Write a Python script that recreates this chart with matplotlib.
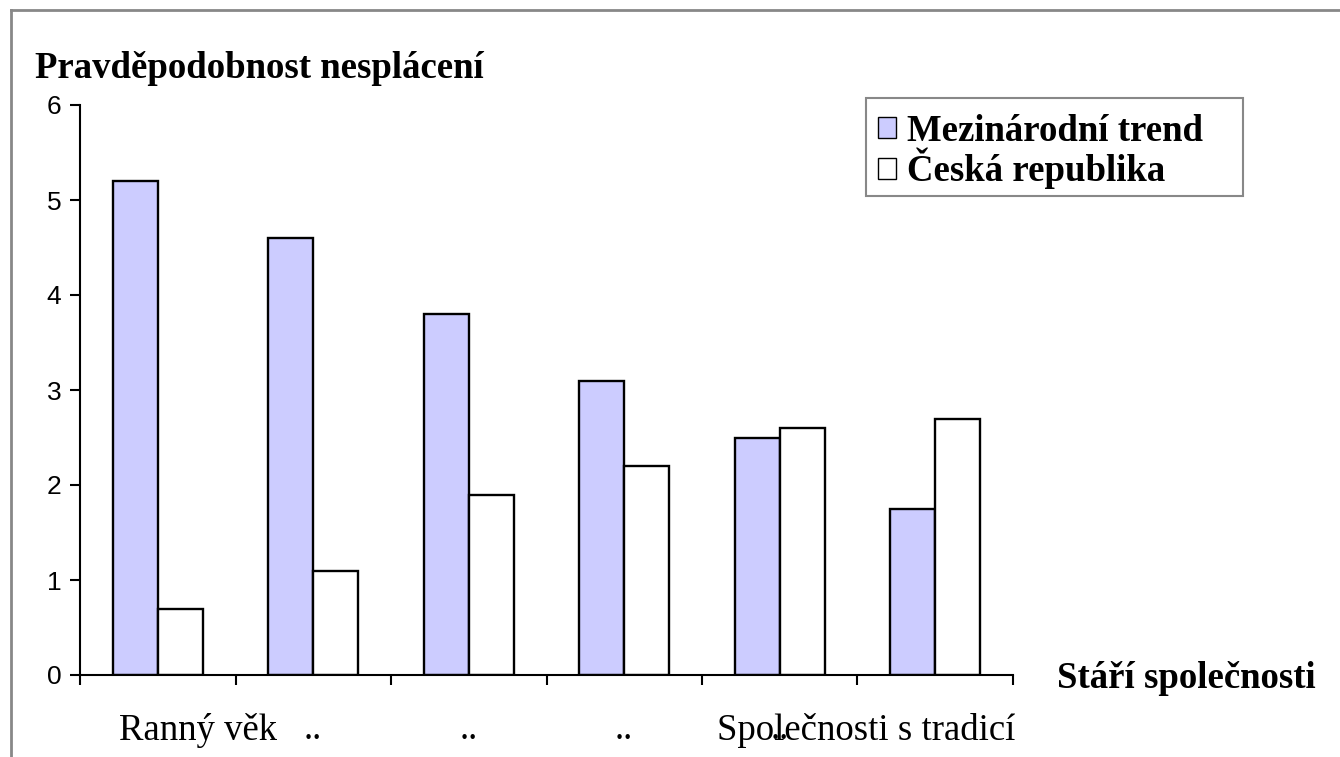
import numpy as np
import matplotlib.pyplot as plt
from matplotlib.lines import Line2D
from matplotlib.patches import Rectangle
from matplotlib.transforms import ScaledTranslation

# values
categories = ['Ranný věk', '..', '..', '..', '..', 'Společnosti s tradicí']
mezinarodni = [5.2, 4.6, 3.8, 3.1, 2.5, 1.75]
cesko = [0.7, 1.1, 1.9, 2.2, 2.6, 2.7]
series_names = ['Mezinárodní trend', 'Česká republika']
yticks = [0, 1, 2, 3, 4, 5, 6]

serif = ['Liberation Serif', 'DejaVu Serif']
sans = ['Liberation Sans', 'DejaVu Sans']

W, H = 1340, 757
fig = plt.figure(figsize=(W / 100, H / 100), dpi=100)
fig.patch.set_facecolor('white')

# axes box in pixels: x 80..1013, y 105..675
ax = fig.add_axes([80 / W, 1 - 675 / H, (1013 - 80) / W, (675 - 105) / H])

x = np.arange(len(categories))
bw = 0.29
ax.bar(x - bw / 2, mezinarodni, bw, color='#CCCCFF', edgecolor='black',
       linewidth=1.7, label=series_names[0])
ax.bar(x + bw / 2, cesko, bw, color='white', edgecolor='black',
       linewidth=1.7, label=series_names[1])

ax.set_xlim(-0.5, len(categories) - 0.5)
ax.set_ylim(0, 6)

for side in ['top', 'right']:
    ax.spines[side].set_visible(False)
for side in ['left', 'bottom']:
    ax.spines[side].set_linewidth(1.5)

ax.set_yticks(yticks)
ax.set_yticklabels([str(t) for t in yticks], fontfamily=sans, fontsize=19)
ax.tick_params(axis='y', direction='out', length=7.5, width=1.5, pad=6)

# tick marks between the categories, labels at the centres
ax.set_xticks(np.arange(-0.5, len(categories)), minor=True)
ax.set_xticks(x)
ax.set_xticklabels(categories, fontfamily=serif, fontsize=26.5)
ax.tick_params(axis='x', which='minor', direction='out', length=7.5, width=1.5)
ax.tick_params(axis='x', which='major', length=0, pad=27)

# first and last label sit off-centre in the original
labels = ax.get_xticklabels()
shifts = {0: 40, len(categories) - 1: -69}
for i, dx in shifts.items():
    labels[i].set_transform(labels[i].get_transform() +
                            ScaledTranslation(dx / 100, 0, fig.dpi_scale_trans))

fig.text(35 / W, 1 - 78 / H, 'Pravděpodobnost nesplácení', fontfamily=serif,
         fontsize=26.5, fontweight='bold', ha='left', va='baseline')
fig.text(1057 / W, 1 - 688 / H, 'Stáří společnosti', fontfamily=serif,
         fontsize=26.5, fontweight='bold', ha='left', va='baseline')

# legend entries without frame, box drawn separately
leg = ax.legend(loc='upper left', bbox_to_anchor=(878 / W, 1 - 114 / H),
                bbox_transform=fig.transFigure, frameon=False,
                prop={'family': serif, 'size': 26.5, 'weight': 'bold'},
                handlelength=0.5, handleheight=0.5, handletextpad=0.3,
                borderpad=0, labelspacing=-0.03, borderaxespad=0)
for h in leg.legend_handles:
    h.set_linewidth(1.0)
fig.add_artist(Rectangle((866 / W, 1 - 196 / H), (1243 - 866) / W, 98 / H,
                         transform=fig.transFigure, facecolor='none',
                         edgecolor='#888888', linewidth=1.5))

# grey border of the chart area (top and left)
fig.add_artist(Line2D([11 / W, 11 / W], [0, 1 - 10 / H], color='#888888',
                      linewidth=2, transform=fig.transFigure))
fig.add_artist(Line2D([11 / W, 1], [1 - 10 / H, 1 - 10 / H], color='#888888',
                      linewidth=2, transform=fig.transFigure))

fig.savefig('out.png', dpi=100)
